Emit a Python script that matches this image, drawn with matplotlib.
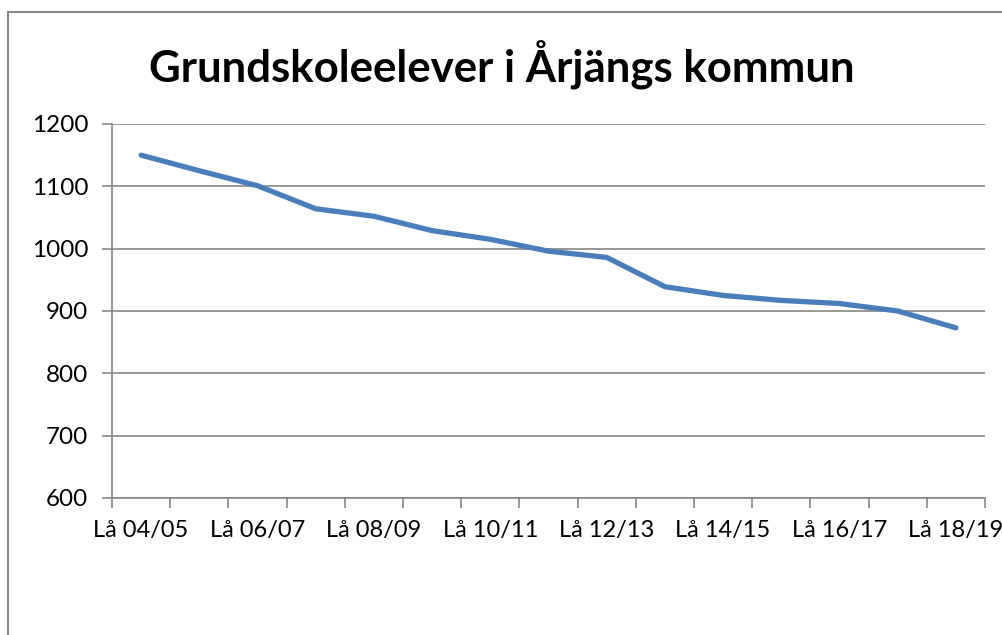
import matplotlib.pyplot as plt
from matplotlib.patches import Rectangle

# school years (läsår) and number of pupils
years = ["Lå 04/05", "Lå 05/06", "Lå 06/07", "Lå 07/08", "Lå 08/09",
         "Lå 09/10", "Lå 10/11", "Lå 11/12", "Lå 12/13", "Lå 13/14",
         "Lå 14/15", "Lå 15/16", "Lå 16/17", "Lå 17/18", "Lå 18/19"]
pupils = [1150, 1125, 1101, 1064, 1052, 1029, 1015, 996, 986, 939,
          925, 917, 912, 900, 873]
yticks = [600, 700, 800, 900, 1000, 1100, 1200]

GRID = "#868686"
LINE = "#4A7EBB"
W, H = 1003, 635

plt.rcParams["font.family"] = ["Lato", "DejaVu Sans"]

fig = plt.figure(figsize=(W / 100, H / 100), dpi=100)
# outer chart border (right/bottom fall outside the picture)
fig.patches.append(Rectangle((8 / W, 1 - 12 / H - 2), 2, 2,
                             transform=fig.transFigure, fill=False,
                             edgecolor=GRID, linewidth=1.5))

ax = fig.add_axes([112 / W, 1 - 498 / H, (985 - 112) / W, (498 - 124) / H])
x = range(len(years))
ax.plot(x, pupils, color=LINE, linewidth=3.8, solid_capstyle="round",
        solid_joinstyle="round")

ax.set_xlim(-0.5, len(years) - 0.5)
ax.set_ylim(600, 1200)
ax.set_yticks(yticks)
ax.set_yticklabels([str(v) for v in yticks], fontsize=17.5)
ax.yaxis.grid(True, color=GRID, linewidth=1.2)
ax.set_axisbelow(True)

# tick marks at category boundaries, labels every other year
ax.set_xticks([i - 0.5 for i in range(len(years) + 1)])
ax.set_xticklabels([])
ax.set_xticks(list(x)[::2], minor=True)
ax.set_xticklabels(years[::2], minor=True, fontsize=17)
ax.tick_params(axis="x", which="minor", length=0, pad=16)
ax.tick_params(axis="x", which="major", length=7, color=GRID, width=1.2)
ax.tick_params(axis="y", length=7, color=GRID, width=1.2, pad=10)

for s in ["top", "right"]:
    ax.spines[s].set_visible(False)
for s in ["left", "bottom"]:
    ax.spines[s].set_color(GRID)
    ax.spines[s].set_linewidth(1.2)

fig.text(502 / W, 1 - 64 / H, "Grundskoleelever i Årjängs kommun",
         ha="center", va="center", fontsize=31.5, fontweight="bold")

fig.savefig("out.png", dpi=100)
